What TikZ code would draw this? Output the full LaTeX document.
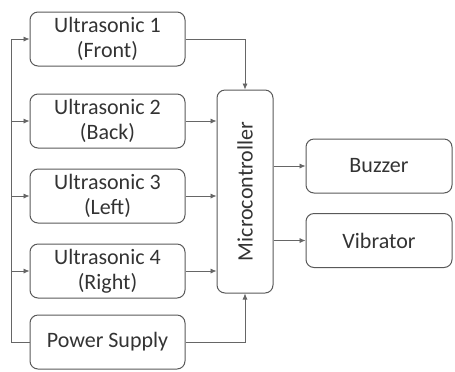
\documentclass[tikz,border=0pt]{standalone}
\usepackage{fontspec}
\setmainfont{Carlito}
\usepackage{tikz}
\usetikzlibrary{arrows.meta}

\begin{document}
\begin{tikzpicture}[x=0.5pt, y=-0.5pt,
                    font=\fontsize{11}{12.5}\selectfont,
                    block/.style={draw=black!65, line width=0.5pt, rounded corners=4pt,
                                  text=black!80, align=center, inner sep=0pt},
                    sensor/.style={block, minimum width=77.5pt, minimum height=27pt},
                    output/.style={block, minimum width=73pt, minimum height=27pt},
                    wire/.style={draw=black!60, line width=0.4pt},
                    >={Latex[length=3pt, width=2.6pt]}]
  \useasboundingbox (0,0) rectangle (455,371);

  % sensors and supply
  \node[sensor] (us1) at (107.5,39)  {Ultrasonic 1\\(Front)};
  \node[sensor] (us2) at (107.5,121) {Ultrasonic 2\\(Back)};
  \node[sensor] (us3) at (107.5,196) {Ultrasonic 3\\(Left)};
  \node[sensor] (us4) at (107.5,271) {Ultrasonic 4\\(Right)};
  \node[sensor] (psu) at (107.5,342) {Power Supply};

  % controller
  \node[block, minimum width=28pt, minimum height=101.5pt] (mcu) at (245,191.5)
    {\rotatebox{90}{Microcontroller}};

  % outputs
  \node[output] (buzzer)   at (379,166)   {Buzzer};
  \node[output] (vibrator) at (379,240.5) {Vibrator};

  % supply bus
  \coordinate (bus) at (11,39);
  \draw[wire] (psu.west) -| (bus);
  \foreach \s in {us1,us2,us3,us4}
    \draw[wire, ->] (bus |- \s.west) -- (\s.west);

  % inputs to controller
  \draw[wire, ->] (us1.east) -| (mcu.north);
  \draw[wire, ->] (psu.east) -| (mcu.south);
  \foreach \s in {us2,us3,us4}
    \draw[wire, ->] (\s.east) -- (\s.east -| mcu.west);

  % controller to outputs
  \foreach \o in {buzzer,vibrator}
    \draw[wire, ->] (\o.west -| mcu.east) -- (\o.west);
\end{tikzpicture}
\end{document}
